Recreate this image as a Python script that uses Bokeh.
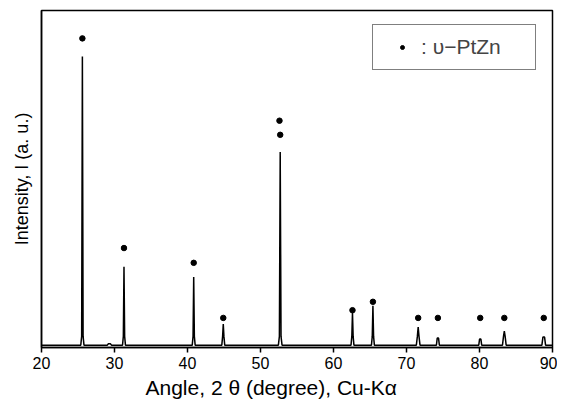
from bokeh.plotting import figure
from bokeh.models import Range1d, FixedTicker, Legend, LegendItem, Title
from bokeh.embed import file_html
from bokeh.resources import INLINE

# Peak positions (2theta, degree) and peak intensities (a.u., 0-100 scale)
peak_pos = [25.6, 29.3, 31.3, 40.85, 44.9, 52.7, 62.6, 65.4, 71.6, 74.3, 80.1, 83.4, 88.8]
peak_int = [86.3, 0.8, 23.7, 20.7, 6.7, 57.9, 10.0, 12.1, 5.8, 2.5, 2.2, 4.6, 2.8]
peak_halfwidth = [0.22, 0.3, 0.2, 0.2, 0.2, 0.25, 0.2, 0.2, 0.25, 0.2, 0.2, 0.25, 0.25]
baseline_level = 0.4

# Marker positions for upsilon-PtZn reflections
mark_x = [25.6, 31.3, 40.85, 44.9, 52.7, 52.6, 62.6, 65.4, 71.6, 74.3, 80.1, 83.4, 88.8]
mark_y = [91.7, 29.3, 24.9, 8.5, 63.0, 67.2, 10.8, 13.3, 8.5, 8.5, 8.5, 8.5, 8.5]

x_ticks = [20, 30, 40, 50, 60, 70, 80, 90]

# build profile polyline from the peak table
xs = [20.0]
ys = [baseline_level]
for pos, h, w in zip(peak_pos, peak_int, peak_halfwidth):
    xs += [pos - w, pos - w * 0.45, pos, pos + w * 0.45, pos + w]
    ys += [baseline_level, min(h, 3.0), h, min(h, 3.0), baseline_level]
xs.append(90.0)
ys.append(baseline_level)

FONT = "Liberation Sans"

p = figure(width=557, height=405, output_backend="svg", toolbar_location=None,
           x_range=Range1d(20, 90), y_range=Range1d(-0.3, 100),
           min_border_left=41, min_border_right=5, min_border_top=10, min_border_bottom=58)

p.line(xs, ys, line_color="black", line_width=1.5)
dots = p.scatter(mark_x, mark_y, size=5.5, color="black")

p.grid.visible = False
p.outline_line_color = "black"
p.outline_line_width = 1.5

ax = p.xaxis[0]
ax.ticker = FixedTicker(ticks=x_ticks)
ax.minor_tick_line_color = None
ax.major_tick_in = 0
ax.major_tick_out = 5
ax.major_tick_line_width = 1.5
ax.axis_line_width = 1.5
ax.major_label_text_font = FONT
ax.major_label_text_font_size = "16px"
ax.major_label_text_color = "black"
ax.major_label_standoff = 4
ax.axis_label = None

ay = p.yaxis[0]
ay.ticker = FixedTicker(ticks=[])
ay.major_tick_line_color = None
ay.minor_tick_line_color = None
ay.major_label_text_font_size = "0px"
ay.axis_line_width = 1.5
ay.axis_label = "Intensity, I (a. u.)"
ay.axis_label_text_font = FONT
ay.axis_label_text_font_size = "18px"
ay.axis_label_text_font_style = "normal"
ay.axis_label_text_color = "black"
ay.axis_label_standoff = 10

xt = Title(text="Angle, 2 θ (degree), Cu-Kα", align="left", offset=104,
           text_font=FONT, text_font_size="21px", text_font_style="normal",
           text_color="black", standoff=4)
p.add_layout(xt, "below")

legend = Legend(items=[LegendItem(label=": υ−PtZn", renderers=[dots])],
                location=(331, 277), padding=10, glyph_width=38, glyph_height=10,
                label_standoff=0, label_width=104, label_height=24,
                label_text_font=FONT, label_text_font_size="21px",
                border_line_color="black", border_line_width=1,
                background_fill_alpha=1, margin=0)
p.add_layout(legend)

open("out.html", "w").write(file_html(p, INLINE))
